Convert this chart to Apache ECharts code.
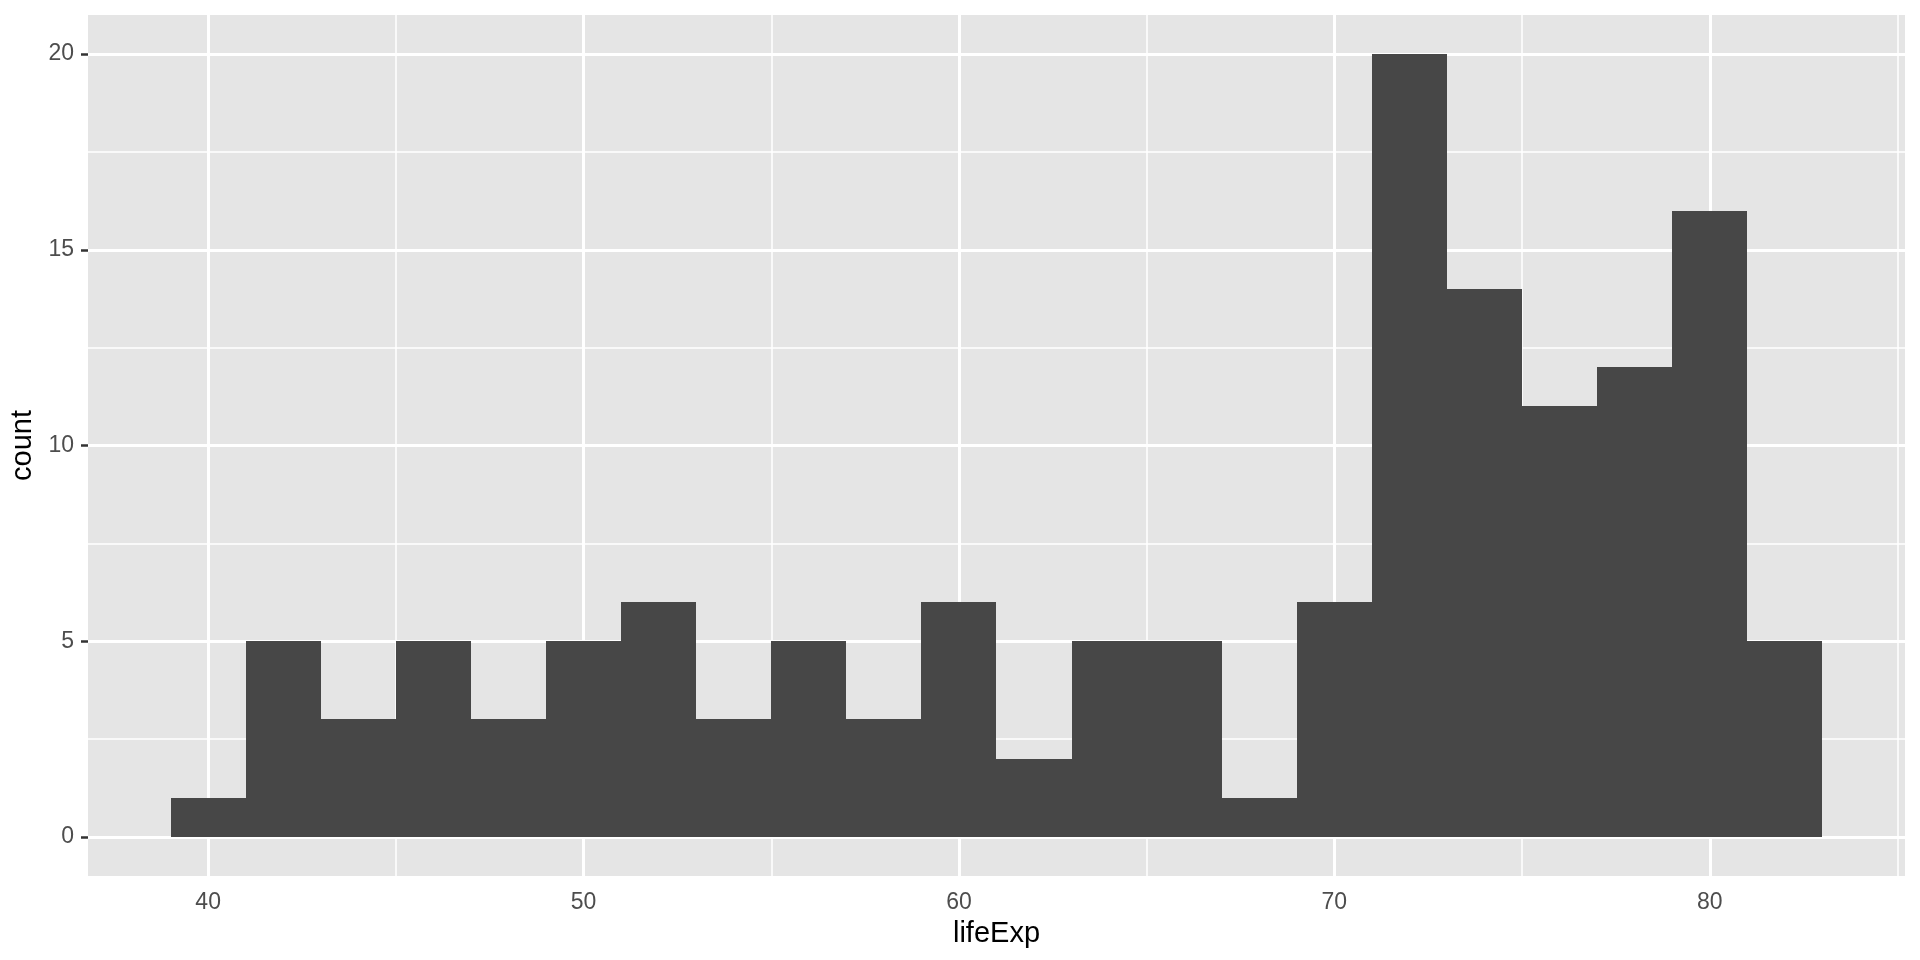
<!DOCTYPE html>
<html>
<head>
<meta charset="utf-8">
<script src="https://cdn.jsdelivr.net/npm/echarts@6/dist/echarts.min.js"></script>
<style>
html,body{margin:0;padding:0;background:#fff;}
#chart{width:1920px;height:960px;}
</style>
</head>
<body>
<div id="chart"></div>
<script>
// Histogram bins (width 2) and counts
const binStarts = [39, 41, 43, 45, 47, 49, 51, 53, 55, 57, 59, 61, 63, 65, 67, 69, 71, 73, 75, 77, 79, 81];
const binEnds   = [41, 43, 45, 47, 49, 51, 53, 55, 57, 59, 61, 63, 65, 67, 69, 71, 73, 75, 77, 79, 81, 83];
const counts    = [1, 5, 3, 5, 3, 5, 6, 3, 5, 3, 6, 2, 5, 5, 1, 6, 20, 14, 11, 12, 16, 5];

const xTicks = [40, 50, 60, 70, 80];
const xMinor = [45, 55, 65, 75, 85];
const yTicks = [0, 5, 10, 15, 20];
const yMinor = [2.5, 7.5, 12.5, 17.5];

const xRange = [36.8, 85.2];
const yRange = [-1, 21];

const histData = binStarts.map((s, i) => [s, binEnds[i], counts[i]]);

const FONT = '"Liberation Sans", Arial, Helvetica, sans-serif';
const chart = echarts.init(document.getElementById('chart'), null, {renderer: 'canvas'});

function gridLine(axis, vals, width) {
  return {
    type: 'line', data: [], z: 1, silent: true,
    markLine: {
      silent: true, symbol: ['none', 'none'], animation: false,
      label: {show: false},
      lineStyle: {color: '#ffffff', width: width, type: 'solid'},
      emphasis: {disabled: true},
      data: vals.map(v => ({[axis]: v}))
    }
  };
}

chart.setOption({
  animation: false,
  backgroundColor: '#ffffff',
  grid: {
    left: 88, right: 15, top: 15, bottom: 84,
    show: true, backgroundColor: '#e5e5e5', borderWidth: 0
  },
  xAxis: {
    type: 'value', min: xRange[0], max: xRange[1],
    name: 'lifeExp', nameLocation: 'middle', nameGap: 43,
    nameTextStyle: {fontFamily: FONT, fontSize: 29, color: '#000000'},
    axisLine: {show: false},
    axisTick: {show: true, customValues: xTicks, length: 7, lineStyle: {color: '#333333', width: 2.5}},
    axisLabel: {show: true, customValues: xTicks, margin: 15, fontFamily: FONT, fontSize: 23, color: '#4d4d4d'},
    splitLine: {show: false}
  },
  yAxis: {
    type: 'value', min: yRange[0], max: yRange[1],
    name: 'count', nameLocation: 'middle', nameGap: 47, nameRotate: 90,
    nameTextStyle: {fontFamily: FONT, fontSize: 29, color: '#000000'},
    axisLine: {show: false},
    axisTick: {show: true, customValues: yTicks, length: 7, lineStyle: {color: '#333333', width: 2.5}},
    axisLabel: {show: true, customValues: yTicks, margin: 14, fontFamily: FONT, fontSize: 23, color: '#4d4d4d'},
    splitLine: {show: false}
  },
  series: [
    gridLine('xAxis', xMinor, 1.5),
    gridLine('yAxis', yMinor, 1.5),
    gridLine('xAxis', xTicks, 3),
    gridLine('yAxis', yTicks, 3),
    {
      type: 'custom', z: 5, silent: true,
      data: histData,
      encode: {x: [0, 1], y: 2},
      renderItem: function (params, api) {
        const p0 = api.coord([api.value(0), api.value(2)]);
        const p1 = api.coord([api.value(1), 0]);
        const x0 = Math.round(p0[0]), x1 = Math.round(p1[0]);
        const y0 = Math.round(p0[1]), y1 = Math.round(p1[1]);
        return {
          type: 'rect',
          shape: {x: x0, y: y0, width: x1 - x0, height: y1 - y0},
          style: {fill: '#474747'}
        };
      }
    }
  ]
});
</script>
</body>
</html>
